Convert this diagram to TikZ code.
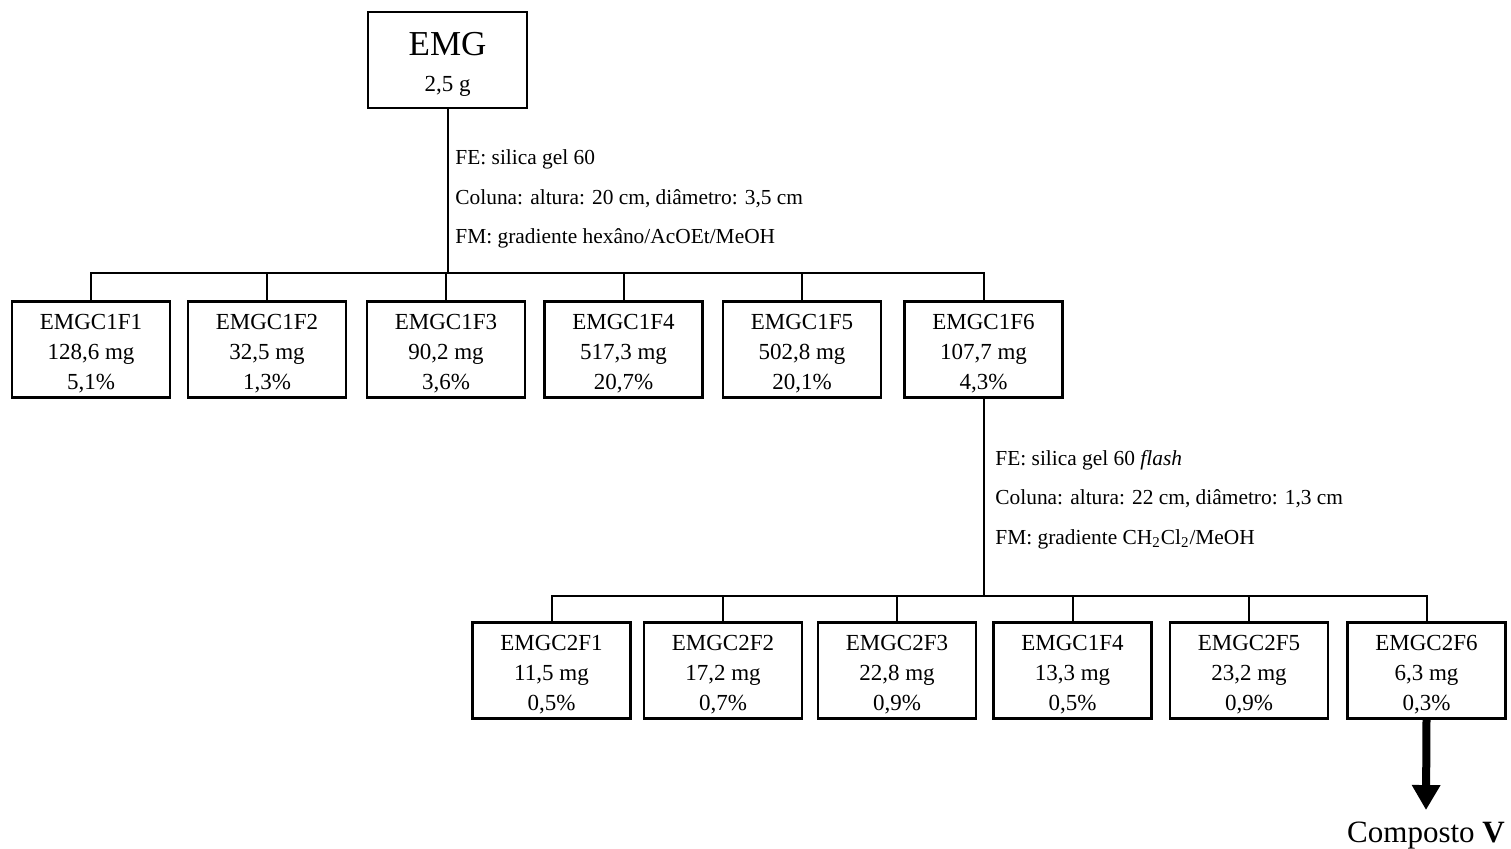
\documentclass[tikz,border=0pt]{standalone}
\usepackage{fontspec}
\setmainfont{Liberation Serif}
\usetikzlibrary{arrows.meta}

\begin{document}
\begin{tikzpicture}[
  x=0.5pt, y=-0.5pt,
  frac/.style={draw, line width=1.2pt, minimum width=79pt, minimum height=48pt,
               align=center, inner sep=1pt, text height=41.6pt, text depth=1.6pt,
               font=\fontsize{11.5}{15}\selectfont},
  link/.style={line width=1pt},
  cond/.style={anchor=west, align=left, inner sep=0pt, font=\fontsize{10.7}{19.75}\selectfont},
  yield/.style={line width=4pt, -{Triangle[width=13.5pt,length=12.5pt]}},
]
  \useasboundingbox (0,0) rectangle (1511,849);

  % extract
  \node[frac, minimum width=79.5pt, text height=34.5pt, text depth=2.5pt] (emg) at (447.5,60)
    {\fontsize{17.5}{20}\selectfont EMG\\[3pt]\fontsize{11.5}{15}\selectfont 2,5 g};

  % first column
  \node[cond] (col1) at (455,199)
    {FE: silica gel 60\\ Coluna: altura: 20 cm, diâmetro: 3,5 cm\\ FM: gradiente hexâno/AcOEt/MeOH};

  % first fractions
  \node[frac] (c1f1) at (91,349.5) {EMGC1F1\\ 128,6 mg\\ 5,1\%};
  \node[frac] (c1f2) at (267,349.5) {EMGC1F2\\ 32,5 mg\\ 1,3\%};
  \node[frac] (c1f3) at (446,349.5) {EMGC1F3\\ 90,2 mg\\ 3,6\%};
  \node[frac] (c1f4) at (623.5,349.5) {EMGC1F4\\ 517,3 mg\\ 20,7\%};
  \node[frac] (c1f5) at (802,349.5) {EMGC1F5\\ 502,8 mg\\ 20,1\%};
  \node[frac] (c1f6) at (983.5,349.5) {EMGC1F6\\ 107,7 mg\\ 4,3\%};

  \coordinate (bus1) at (0,273);
  \draw[link] (emg.south) -- (emg.south |- bus1);
  \draw[link] (c1f1.north) |- (c1f6.north |- bus1) -- (c1f6.north);
  \foreach \n in {2,...,5}
    \draw[link] (c1f\n.north) -- (c1f\n.north |- bus1);

  % second column
  \node[cond] (col2) at (995,499.5)
    {FE: silica gel 60 \textit{flash}\\ Coluna: altura: 22 cm, diâmetro: 1,3 cm\\
     FM: gradiente CH\textsubscript{2}Cl\textsubscript{2}/MeOH};

  % second fractions
  \node[frac] (c2f1) at (551.5,670.5) {EMGC2F1\\ 11,5 mg\\ 0,5\%};
  \node[frac] (c2f2) at (723,670.5) {EMGC2F2\\ 17,2 mg\\ 0,7\%};
  \node[frac] (c2f3) at (897,670.5) {EMGC2F3\\ 22,8 mg\\ 0,9\%};
  \node[frac] (c2f4) at (1072.5,670.5) {EMGC1F4\\ 13,3 mg\\ 0,5\%};
  \node[frac] (c2f5) at (1249,670.5) {EMGC2F5\\ 23,2 mg\\ 0,9\%};
  \node[frac] (c2f6) at (1426.5,670.5) {EMGC2F6\\ 6,3 mg\\ 0,3\%};

  \coordinate (bus2) at (0,596);
  \draw[link] (c1f6.south) -- (c1f6.south |- bus2);
  \draw[link] (c2f1.north) |- (c2f6.north |- bus2) -- (c2f6.north);
  \foreach \n in {2,...,5}
    \draw[link] (c2f\n.north) -- (c2f\n.north |- bus2);

  % isolated compound
  \node[inner sep=1pt, font=\fontsize{15.5}{18}\selectfont] (comp) at (1426,836)
    {Composto \textbf{V}};
  \draw[yield] (c2f6.south) -- ([yshift=5pt]comp.north);
\end{tikzpicture}
\end{document}
